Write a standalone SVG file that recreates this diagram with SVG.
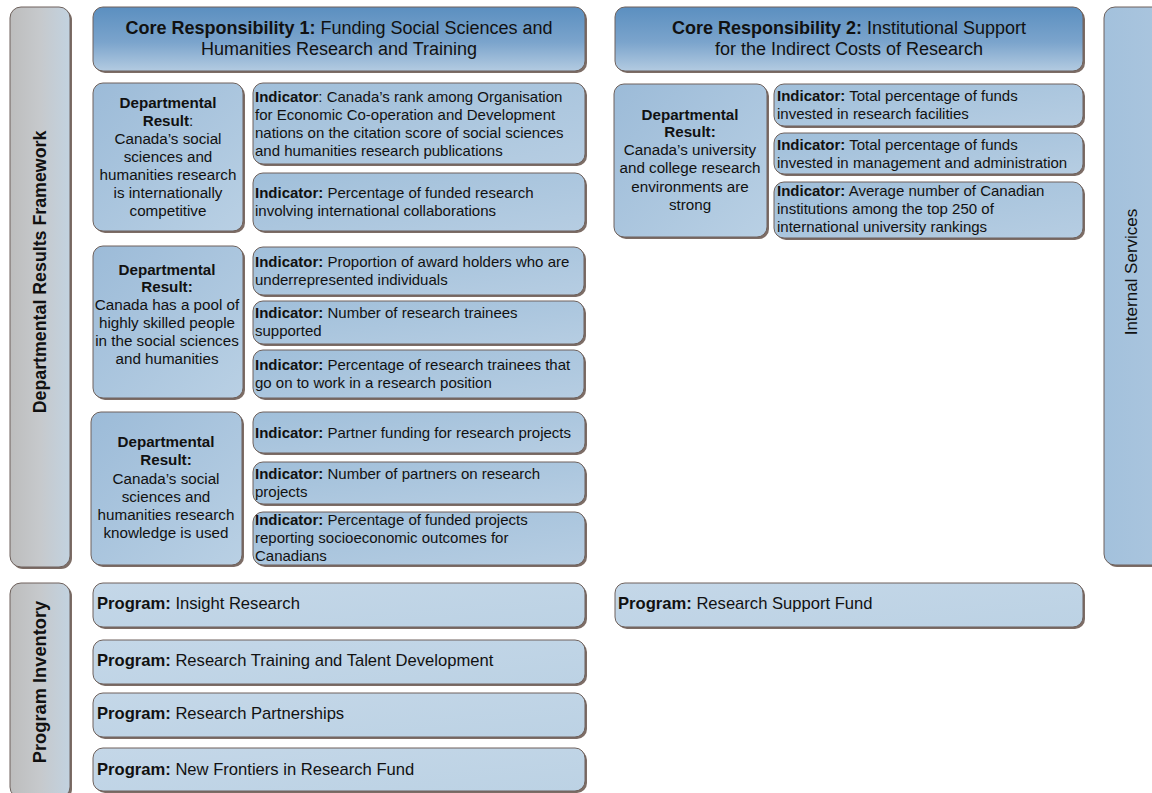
<svg xmlns="http://www.w3.org/2000/svg" width="1152" height="793" viewBox="0 0 1152 793">
<defs>
<linearGradient id="gHead" x1="0" y1="0" x2="0" y2="1">
<stop offset="0" stop-color="#5b8fc0"/>
<stop offset="0.55" stop-color="#7ba4cc"/>
<stop offset="1" stop-color="#b3cbe1"/>
</linearGradient>
<linearGradient id="gBox" x1="0" y1="0" x2="1" y2="1">
<stop offset="0" stop-color="#9cbbd8"/>
<stop offset="1" stop-color="#b9d0e4"/>
</linearGradient>
<linearGradient id="gInd" x1="0" y1="0" x2="1" y2="1">
<stop offset="0" stop-color="#a0bfda"/>
<stop offset="1" stop-color="#b6cde2"/>
</linearGradient>
<linearGradient id="gProg" x1="0" y1="0" x2="1" y2="1">
<stop offset="0" stop-color="#c4d7e8"/>
<stop offset="1" stop-color="#bcd2e4"/>
</linearGradient>
<linearGradient id="gSide" x1="0" y1="0" x2="1" y2="0">
<stop offset="0" stop-color="#bdbdbd"/>
<stop offset="0.5" stop-color="#c6c9cc"/>
<stop offset="1" stop-color="#c2d2e0"/>
</linearGradient>
<linearGradient id="gInt" x1="0" y1="0" x2="1" y2="0">
<stop offset="0" stop-color="#a3c1dc"/>
<stop offset="1" stop-color="#aac5de"/>
</linearGradient>
</defs>
<style>
.sh{fill:#7d6d66;}
.bd{stroke:#6e615c;stroke-width:1;}
.head{fill:url(#gHead);}
.box{fill:url(#gBox);}
.ind{fill:url(#gInd);}
.prog{fill:url(#gProg);}
.side{fill:url(#gSide);}
.int{fill:url(#gInt);}
text{font-family:"Liberation Sans",Arial,sans-serif;fill:#111;}
.t18{font-size:18px;}
.t15{font-size:15px;}
.dr{font-size:15.2px;}
.pg{font-size:16.6px;}
.c{text-anchor:middle;}
.b{font-weight:bold;}
</style>
<rect width="1152" height="793" fill="#ffffff"/>

<g id="side-drf">
<rect class="sh" x="12" y="9" width="60" height="560" rx="11"/>
<rect class="side bd" x="10" y="7" width="60" height="560" rx="11"/>
<text class="b c" font-size="17.8" transform="translate(46 272) rotate(-90)">Departmental Results Framework</text>
</g>

<g id="side-pi">
<rect class="sh" x="12" y="585" width="60" height="215" rx="11"/>
<rect class="side bd" x="10" y="583" width="60" height="215" rx="11"/>
<text class="b c" font-size="18.3" transform="translate(46 682) rotate(-90)">Program Inventory</text>
</g>

<g id="side-is">
<rect class="sh" x="1106" y="9" width="60" height="558" rx="11"/>
<rect class="int bd" x="1104" y="7" width="60" height="558" rx="11"/>
<text class="c" font-size="17" transform="translate(1137 272) rotate(-90)">Internal Services</text>
</g>

<g id="cr1">
<rect class="sh" x="95" y="9" width="492" height="64" rx="10"/>
<rect class="head bd" x="93" y="7" width="492" height="64" rx="10"/>
<text class="t18 c" x="339" y="34"><tspan class="b">Core Responsibility 1:</tspan> Funding Social Sciences and</text>
<text class="t18 c" x="339" y="55">Humanities Research and Training</text>
</g>

<g id="cr2">
<rect class="sh" x="617" y="9" width="468" height="64" rx="10"/>
<rect class="head bd" x="615" y="7" width="468" height="64" rx="10"/>
<text class="t18 c" x="849" y="34"><tspan class="b">Core Responsibility 2:</tspan> Institutional Support</text>
<text class="t18 c" x="849" y="55">for the Indirect Costs of Research</text>
</g>

<g id="dr1">
<rect class="sh" x="95" y="85" width="150" height="148" rx="10"/>
<rect class="box bd" x="93" y="83" width="150" height="148" rx="10"/>
<text class="dr c" x="168"><tspan class="b" x="168" y="108">Departmental</tspan><tspan x="168" y="126"><tspan class="b">Result</tspan>:</tspan><tspan x="168" y="144">Canada’s social</tspan><tspan x="168" y="162">sciences and</tspan><tspan x="168" y="180">humanities research</tspan><tspan x="168" y="198">is internationally</tspan><tspan x="168" y="216">competitive</tspan></text>
</g>

<g id="ind1">
<rect class="sh" x="255" y="85" width="332" height="81" rx="10"/>
<rect class="ind bd" x="253" y="83" width="332" height="81" rx="10"/>
<text class="t15"><tspan x="255" y="102"><tspan class="b">Indicator</tspan>: Canada’s rank among Organisation</tspan><tspan x="255" y="120">for Economic Co-operation and Development</tspan><tspan x="255" y="138">nations on the citation score of social sciences</tspan><tspan x="255" y="156">and humanities research publications</tspan></text>
</g>

<g id="ind2">
<rect class="sh" x="255" y="175" width="332" height="58" rx="10"/>
<rect class="ind bd" x="253" y="173" width="332" height="58" rx="10"/>
<text class="t15"><tspan x="255" y="198"><tspan class="b">Indicator:</tspan> Percentage of funded research</tspan><tspan x="255" y="216">involving international collaborations</tspan></text>
</g>

<g id="dr2">
<rect class="sh" x="95" y="248" width="150" height="152" rx="10"/>
<rect class="box bd" x="93" y="246" width="150" height="152" rx="10"/>
<text class="dr c" x="167"><tspan class="b" x="167" y="275">Departmental</tspan><tspan class="b" x="167" y="292">Result:</tspan><tspan x="167" y="310">Canada has a pool of</tspan><tspan x="167" y="328">highly skilled people</tspan><tspan x="167" y="346">in the social sciences</tspan><tspan x="167" y="364">and humanities</tspan></text>
</g>

<g id="ind3">
<rect class="sh" x="255" y="249" width="331" height="48" rx="10"/>
<rect class="ind bd" x="253" y="247" width="331" height="48" rx="10"/>
<text class="t15"><tspan x="255" y="267"><tspan class="b">Indicator:</tspan> Proportion of award holders who are</tspan><tspan x="255" y="285">underrepresented individuals</tspan></text>
</g>

<g id="ind4">
<rect class="sh" x="255" y="303" width="331" height="43" rx="10"/>
<rect class="ind bd" x="253" y="301" width="331" height="43" rx="10"/>
<text class="t15"><tspan x="255" y="318"><tspan class="b">Indicator:</tspan> Number of research trainees</tspan><tspan x="255" y="336">supported</tspan></text>
</g>

<g id="ind5">
<rect class="sh" x="255" y="352" width="331" height="48" rx="10"/>
<rect class="ind bd" x="253" y="350" width="331" height="48" rx="10"/>
<text class="t15"><tspan x="255" y="370"><tspan class="b">Indicator:</tspan> Percentage of research trainees that</tspan><tspan x="255" y="388">go on to work in a research position</tspan></text>
</g>

<g id="dr3">
<rect class="sh" x="93" y="414" width="151" height="153" rx="10"/>
<rect class="box bd" x="91" y="412" width="151" height="153" rx="10"/>
<text class="dr c" x="166"><tspan class="b" x="166" y="447">Departmental</tspan><tspan class="b" x="166" y="465">Result:</tspan><tspan x="166" y="484">Canada’s social</tspan><tspan x="166" y="502">sciences and</tspan><tspan x="166" y="520">humanities research</tspan><tspan x="166" y="538">knowledge is used</tspan></text>
</g>

<g id="ind6">
<rect class="sh" x="255" y="414" width="332" height="41" rx="10"/>
<rect class="ind bd" x="253" y="412" width="332" height="41" rx="10"/>
<text class="t15"><tspan x="255" y="438"><tspan class="b">Indicator:</tspan> Partner funding for research projects</tspan></text>
</g>

<g id="ind7">
<rect class="sh" x="255" y="464" width="332" height="42" rx="10"/>
<rect class="ind bd" x="253" y="462" width="332" height="42" rx="10"/>
<text class="t15"><tspan x="255" y="479"><tspan class="b">Indicator:</tspan> Number of partners on research</tspan><tspan x="255" y="497">projects</tspan></text>
</g>

<g id="ind8">
<rect class="sh" x="255" y="514" width="332" height="53" rx="10"/>
<rect class="ind bd" x="253" y="512" width="332" height="53" rx="10"/>
<text class="t15"><tspan x="255" y="525"><tspan class="b">Indicator:</tspan> Percentage of funded projects</tspan><tspan x="255" y="543">reporting socioeconomic outcomes for</tspan><tspan x="255" y="561">Canadians</tspan></text>
</g>

<g id="dr4">
<rect class="sh" x="616" y="86" width="153" height="153" rx="10"/>
<rect class="box bd" x="614" y="84" width="153" height="153" rx="10"/>
<text class="dr c" x="690"><tspan class="b" x="690" y="120">Departmental</tspan><tspan class="b" x="690" y="137">Result:</tspan><tspan x="690" y="155">Canada’s university</tspan><tspan x="690" y="173">and college research</tspan><tspan x="690" y="192">environments are</tspan><tspan x="690" y="210">strong</tspan></text>
</g>

<g id="indA">
<rect class="sh" x="776" y="86" width="309" height="42" rx="10"/>
<rect class="ind bd" x="774" y="84" width="309" height="42" rx="10"/>
<text class="t15"><tspan x="777" y="101"><tspan class="b">Indicator:</tspan> Total percentage of funds</tspan><tspan x="777" y="119">invested in research facilities</tspan></text>
</g>

<g id="indB">
<rect class="sh" x="776" y="135" width="309" height="41" rx="10"/>
<rect class="ind bd" x="774" y="133" width="309" height="41" rx="10"/>
<text class="t15"><tspan x="777" y="150"><tspan class="b">Indicator:</tspan> Total percentage of funds</tspan><tspan x="777" y="168">invested in management and administration</tspan></text>
</g>

<g id="indC">
<rect class="sh" x="776" y="184" width="309" height="56" rx="10"/>
<rect class="ind bd" x="774" y="182" width="309" height="56" rx="10"/>
<text class="t15"><tspan x="777" y="196"><tspan class="b">Indicator:</tspan> Average number of Canadian</tspan><tspan x="777" y="214">institutions among the top 250 of</tspan><tspan x="777" y="232">international university rankings</tspan></text>
</g>

<g id="p1">
<rect class="sh" x="95" y="585" width="492" height="44" rx="10"/>
<rect class="prog bd" x="93" y="583" width="492" height="44" rx="10"/>
<text class="pg" x="97" y="609"><tspan class="b">Program:</tspan> Insight Research</text>
</g>

<g id="p2">
<rect class="sh" x="95" y="642" width="492" height="44" rx="10"/>
<rect class="prog bd" x="93" y="640" width="492" height="44" rx="10"/>
<text class="pg" x="97" y="666"><tspan class="b">Program:</tspan> Research Training and Talent Development</text>
</g>

<g id="p3">
<rect class="sh" x="95" y="695" width="492" height="44" rx="10"/>
<rect class="prog bd" x="93" y="693" width="492" height="44" rx="10"/>
<text class="pg" x="97" y="719"><tspan class="b">Program:</tspan> Research Partnerships</text>
</g>

<g id="p4">
<rect class="sh" x="95" y="750" width="492" height="43" rx="10"/>
<rect class="prog bd" x="93" y="748" width="492" height="43" rx="10"/>
<text class="pg" x="97" y="775"><tspan class="b">Program:</tspan> New Frontiers in Research Fund</text>
</g>

<g id="p5">
<rect class="sh" x="617" y="585" width="468" height="44" rx="10"/>
<rect class="prog bd" x="615" y="583" width="468" height="44" rx="10"/>
<text class="pg" x="618" y="609"><tspan class="b">Program:</tspan> Research Support Fund</text>
</g>

<g id="connectors"></g>
</svg>
